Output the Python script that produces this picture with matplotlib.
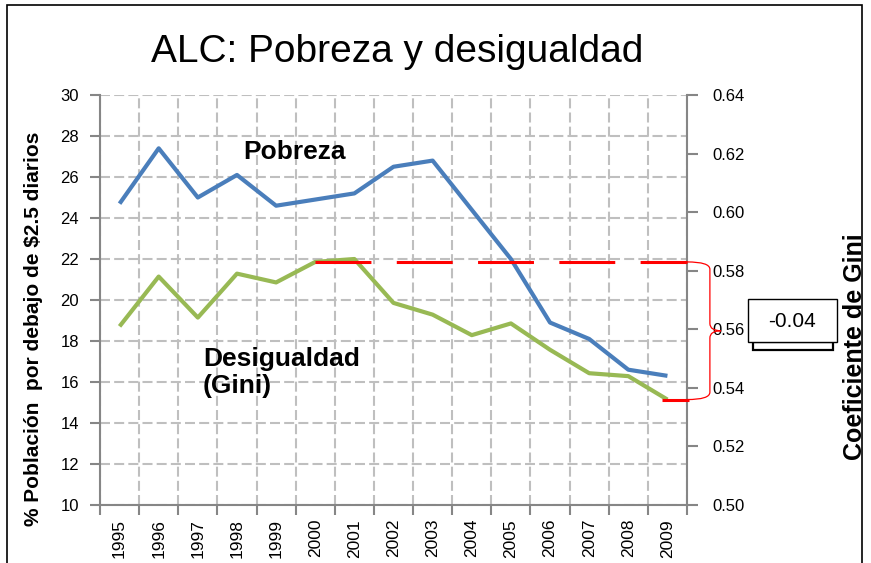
import numpy as np
import matplotlib
matplotlib.use("Agg")
import matplotlib.pyplot as plt
from matplotlib.patches import Rectangle, PathPatch
from matplotlib.path import Path
from matplotlib.transforms import blended_transform_factory

# ---- data -------------------------------------------------------------
years = ["1995", "1996", "1997", "1998", "1999", "2000", "2001", "2002",
         "2003", "2004", "2005", "2006", "2007", "2008", "2009"]
pobreza = [24.7, 27.4, 25.0, 26.1, 24.6, 24.9, 25.2, 26.5,
           26.8, 24.4, 22.0, 18.9, 18.1, 16.6, 16.3]
gini = [0.561, 0.578, 0.564, 0.579, 0.576, 0.583, 0.584, 0.569,
        0.565, 0.558, 0.562, 0.553, 0.545, 0.544, 0.536]
left_ticks = list(range(10, 31, 2))
right_ticks = [0.50, 0.52, 0.54, 0.56, 0.58, 0.60, 0.62, 0.64]
ref_year = "2000"
gini_change_label = "-0.04"

# ---- style ------------------------------------------------------------
plt.rcParams["font.family"] = ["Liberation Sans", "DejaVu Sans"]
BLUE = "#4A7EBB"
GREEN = "#98B954"
RED = "#FF0000"
SPINE = "#868686"
GRID = "#BFBFBF"

fig = plt.figure(figsize=(8.71, 5.63), dpi=100)
fig.patch.set_facecolor("white")
ax = fig.add_axes([0.11481, 0.10302, 0.67394, 0.72824])
ax2 = ax.twinx()

x = np.arange(len(years))

# left axis: poverty rate
ax.set_xlim(-0.5, len(years) - 0.5)
ax.set_ylim(left_ticks[0], left_ticks[-1])
ax.set_yticks(left_ticks)
ax.set_xticks(np.arange(-0.5, len(years)), labels=[])
ax.set_xticks(x, labels=years, minor=True)
ax.tick_params(axis="x", which="minor", length=0, rotation=90,
               labelsize=12.5, pad=10)
ax.tick_params(axis="x", which="major", length=7, width=1.5, color=SPINE,
               direction="out")
ax.tick_params(axis="y", length=7, width=1.5, color=SPINE, direction="out",
               labelsize=12, pad=8)
ax.grid(True, which="major", color=GRID, linewidth=1.5,
        linestyle=(0, (4.8, 2.0)))
ax.set_axisbelow(True)
for side in ("top", "right"):
    ax.spines[side].set_visible(False)
for side in ("left", "bottom"):
    ax.spines[side].set_color(SPINE)
    ax.spines[side].set_linewidth(1.5)

ax.plot(x, pobreza, color=BLUE, linewidth=3, solid_capstyle="butt", zorder=3)

# right axis: Gini coefficient
ax2.set_ylim(right_ticks[0], right_ticks[-1])
ax2.set_yticks(right_ticks, labels=[f"{v:.2f}" for v in right_ticks])
ax2.tick_params(axis="y", length=8, width=1.5, color=SPINE, direction="out",
                labelsize=12, pad=10)
for side in ("top", "left", "bottom"):
    ax2.spines[side].set_visible(False)
ax2.spines["right"].set_color(SPINE)
ax2.spines["right"].set_linewidth(1.5)

ax2.plot(x, gini, color=GREEN, linewidth=3, solid_capstyle="butt", zorder=3)

# reference level and change bracket
i_ref = years.index(ref_year)
ref_level = gini[i_ref]
end_level = gini[-1]
ax2.plot([x[i_ref], len(years) - 0.5], [ref_level, ref_level], color=RED,
         linewidth=2.2, linestyle=(0, (18.3, 8.3)), clip_on=False, zorder=4)
ax2.plot([x[-1] - 0.15, len(years) - 0.45], [end_level, end_level],
         color=RED, linewidth=2.2, solid_capstyle="butt", clip_on=False,
         zorder=4)

bt = blended_transform_factory(ax2.transAxes, ax2.transData)
xb, xtip, r = 1.039, 1.058, 0.0025
mid = (ref_level + end_level) / 2
verts = [(1.0, ref_level), (xb, ref_level), (xb, ref_level - r),
         (xb, mid + r), (xb, mid), (xtip, mid),
         (xb, mid), (xb, mid - r),
         (xb, end_level + r), (xb, end_level), (1.0, end_level)]
codes = [Path.MOVETO, Path.CURVE3, Path.CURVE3,
         Path.LINETO, Path.CURVE3, Path.CURVE3,
         Path.CURVE3, Path.CURVE3,
         Path.LINETO, Path.CURVE3, Path.CURVE3]
brace = PathPatch(Path(verts, codes), transform=bt, facecolor="none",
                  edgecolor=RED, linewidth=0.9, clip_on=False, zorder=4)
ax2.add_patch(brace)

# series labels
ax.text(3.15, 26.88, "Pobreza", fontsize=19, fontweight="bold",
        va="baseline", ha="left")
ax.text(2.13, 15.46, "Desigualdad\n(Gini)", fontsize=19, fontweight="bold",
        va="baseline", ha="left", linespacing=1.15)

# axis titles and chart title
fig.text(0.039, 0.4156, "% Población  por debajo de $2.5 diarios",
         rotation=90, fontsize=15, fontweight="bold", ha="center", va="center")
fig.text(0.9816, 0.3837, "Coeficiente de Gini", rotation=90, fontsize=18,
         fontweight="bold", ha="center", va="center")
fig.text(0.456, 0.8899, "ALC: Pobreza y desigualdad", fontsize=28,
         ha="center", va="baseline")

# change call-out box
fig.patches.append(Rectangle((0.8645, 0.3783), 0.0918, 0.0142,
                             transform=fig.transFigure, facecolor="white",
                             edgecolor="black", linewidth=1.6))
fig.patches.append(Rectangle((0.8588, 0.3925), 0.1022, 0.0764,
                             transform=fig.transFigure, facecolor="white",
                             edgecolor="black", linewidth=1.0))
fig.text(0.9093, 0.4298, gini_change_label, fontsize=15, ha="center",
         va="center")

# frame around the chart
fig.patches.append(Rectangle((7 / 871, -0.05), 855 / 871, 1.05 - 5 / 563,
                             transform=fig.transFigure, fill=False,
                             edgecolor="black", linewidth=1.2))

fig.savefig("out.png", dpi=100)
